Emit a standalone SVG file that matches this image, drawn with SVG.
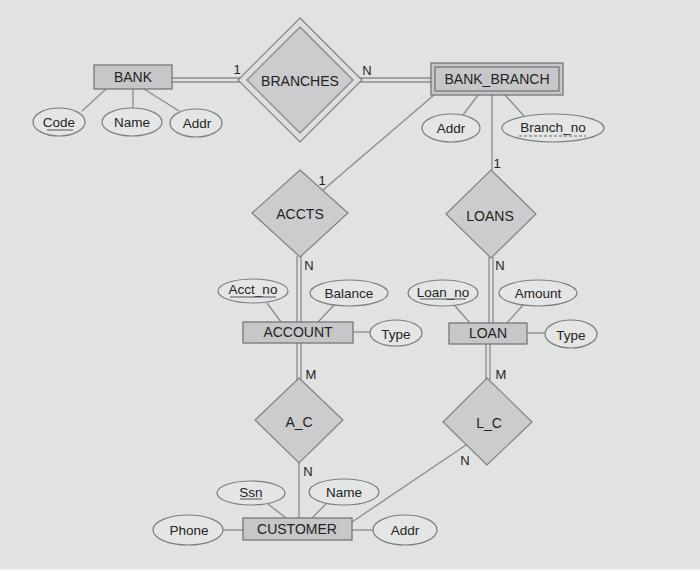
<svg xmlns="http://www.w3.org/2000/svg" width="700" height="571" viewBox="0 0 700 571">
<style>
.bg{fill:#e0e3e2}
.ent{fill:#c6c7c8;stroke:#6e6f70;stroke-width:1.2}
.ent2{fill:none;stroke:#6e6f70;stroke-width:1.2}
.rel{fill:#cbcccd;stroke:#808182;stroke-width:1.2}
.relo{fill:#dcdfde;stroke:#808182;stroke-width:1.2}
.att{fill:#e4e6e5;stroke:#7c7d7e;stroke-width:1.2}
.ln{stroke:#8a8b8c;stroke-width:1.3;fill:none}
.ul{stroke:#555;stroke-width:1;fill:none}
.dul{stroke:#666;stroke-width:1;fill:none;stroke-dasharray:3 2}
text{font-family:"Liberation Sans",Arial,sans-serif;fill:#232323;text-anchor:middle;dominant-baseline:central}
.t14{font-size:14px}
.t13{font-size:13.5px}
.c{font-size:13px}
</style>
<rect class="bg" x="0" y="0" width="700" height="571"/>
<rect x="0" y="569" width="700" height="2" fill="#f3f4f4"/>

<g id="connectors">
  <line class="ln" x1="172" y1="78" x2="242" y2="78"/>
  <line class="ln" x1="172" y1="82" x2="242" y2="82"/>
  <line class="ln" x1="358" y1="78" x2="431" y2="78"/>
  <line class="ln" x1="358" y1="82" x2="431" y2="82"/>
  <line class="ln" x1="106" y1="89" x2="82" y2="111"/>
  <line class="ln" x1="133" y1="89" x2="133" y2="108"/>
  <line class="ln" x1="144" y1="89" x2="179" y2="111"/>
  <line class="ln" x1="478" y1="95" x2="463" y2="115"/>
  <line class="ln" x1="505" y1="95" x2="524" y2="116"/>
  <line class="ln" x1="492" y1="95" x2="492" y2="170"/>
  <line class="ln" x1="434" y1="95" x2="323" y2="190"/>
  <line class="ln" x1="297" y1="256" x2="297" y2="322"/>
  <line class="ln" x1="301" y1="256" x2="301" y2="322"/>
  <line class="ln" x1="267" y1="303" x2="281" y2="322"/>
  <line class="ln" x1="334" y1="305" x2="318" y2="322"/>
  <line class="ln" x1="353" y1="332" x2="370" y2="332"/>
  <line class="ln" x1="297" y1="343" x2="297" y2="380"/>
  <line class="ln" x1="301" y1="343" x2="301" y2="380"/>
  <line class="ln" x1="299" y1="463" x2="299" y2="518"/>
  <line class="ln" x1="489" y1="257" x2="489" y2="323"/>
  <line class="ln" x1="493" y1="257" x2="493" y2="323"/>
  <line class="ln" x1="455" y1="306" x2="470" y2="323"/>
  <line class="ln" x1="523" y1="305" x2="507" y2="323"/>
  <line class="ln" x1="527" y1="333" x2="545" y2="333"/>
  <line class="ln" x1="486" y1="344" x2="486" y2="380"/>
  <line class="ln" x1="490" y1="344" x2="490" y2="380"/>
  <line class="ln" x1="466" y1="445" x2="352" y2="522"/>
  <line class="ln" x1="268" y1="504" x2="286" y2="518"/>
  <line class="ln" x1="326" y1="504" x2="312" y2="518"/>
  <line class="ln" x1="223" y1="530" x2="243" y2="530"/>
  <line class="ln" x1="352" y1="530" x2="373" y2="530"/>
  <text class="c" x="237" y="69">1</text>
  <text class="c" x="367" y="70">N</text>
  <text class="c" x="497" y="163">1</text>
  <text class="c" x="322" y="180">1</text>
  <text class="c" x="309" y="265">N</text>
  <text class="c" x="500" y="265">N</text>
  <text class="c" x="311" y="374">M</text>
  <text class="c" x="501" y="374">M</text>
  <text class="c" x="308" y="471">N</text>
  <text class="c" x="465" y="460">N</text>
</g>

<g id="BANK">
  <rect class="ent" x="94" y="65" width="78" height="24"/>
  <text class="t14" x="133" y="77">BANK</text>
</g>
<g id="BANK_Code">
  <ellipse class="att" cx="59" cy="122" rx="26" ry="14"/>
  <text class="t13" x="59" y="122">Code</text>
  <line class="ul" x1="47" y1="130" x2="73" y2="130"/>
</g>
<g id="BANK_Name">
  <ellipse class="att" cx="132" cy="122" rx="30" ry="14"/>
  <text class="t13" x="132" y="122">Name</text>
</g>
<g id="BANK_Addr">
  <ellipse class="att" cx="196" cy="123" rx="26" ry="14"/>
  <text class="t13" x="197" y="123">Addr</text>
</g>

<g id="BRANCHES">
  <polygon class="relo" points="300,18 362,80 300,142 238,80"/>
  <polygon class="rel" points="300,27 353,80 300,133 247,80"/>
  <text class="t14" x="300" y="81">BRANCHES</text>
</g>

<g id="BANK_BRANCH">
  <rect class="ent" x="431" y="63" width="132" height="32"/>
  <rect class="ent2" x="435" y="67" width="124" height="24"/>
  <text class="t14" x="497" y="79">BANK_BRANCH</text>
</g>
<g id="BB_Addr">
  <ellipse class="att" cx="451" cy="128" rx="29" ry="14"/>
  <text class="t13" x="451" y="128">Addr</text>
</g>
<g id="BB_Branch_no">
  <ellipse class="att" cx="553" cy="128" rx="51" ry="14"/>
  <text class="t13" x="553" y="127">Branch_no</text>
  <line class="dul" x1="519" y1="136" x2="586" y2="136"/>
</g>

<g id="ACCTS">
  <polygon class="rel" points="300,170 348,213 300,257 252,213"/>
  <text class="t14" x="300" y="214">ACCTS</text>
</g>
<g id="LOANS">
  <polygon class="rel" points="491,170 536,214 491,258 446,214"/>
  <text class="t14" x="490" y="216">LOANS</text>
</g>

<g id="ACCOUNT">
  <rect class="ent" x="243" y="322" width="110" height="21"/>
  <text class="t14" x="298" y="332">ACCOUNT</text>
</g>
<g id="ACC_Acct_no">
  <ellipse class="att" cx="253" cy="291" rx="35" ry="12"/>
  <text class="t13" x="253" y="289">Acct_no</text>
  <line class="ul" x1="230" y1="297" x2="276" y2="297"/>
</g>
<g id="ACC_Balance">
  <ellipse class="att" cx="349" cy="293" rx="39" ry="13"/>
  <text class="t13" x="349" y="293">Balance</text>
</g>
<g id="ACC_Type">
  <ellipse class="att" cx="396" cy="333" rx="26" ry="13"/>
  <text class="t13" x="396" y="334">Type</text>
</g>

<g id="LOAN">
  <rect class="ent" x="449" y="323" width="78" height="21"/>
  <text class="t14" x="488" y="333">LOAN</text>
</g>
<g id="LOAN_Loan_no">
  <ellipse class="att" cx="443" cy="293" rx="35" ry="13"/>
  <text class="t13" x="443" y="292">Loan_no</text>
  <line class="ul" x1="420" y1="299" x2="466" y2="299"/>
</g>
<g id="LOAN_Amount">
  <ellipse class="att" cx="538" cy="293" rx="39" ry="13"/>
  <text class="t13" x="538" y="293">Amount</text>
</g>
<g id="LOAN_Type">
  <ellipse class="att" cx="571" cy="334" rx="26" ry="14"/>
  <text class="t13" x="571" y="335">Type</text>
</g>

<g id="A_C">
  <polygon class="rel" points="299,378 343,420 299,463 255,420"/>
  <text class="t14" x="299" y="422">A_C</text>
</g>
<g id="L_C">
  <polygon class="rel" points="487,378 532,422 487,465 443,422"/>
  <text class="t14" x="489" y="423">L_C</text>
</g>

<g id="CUSTOMER">
  <rect class="ent" x="243" y="518" width="109" height="22"/>
  <text class="t14" x="297" y="529">CUSTOMER</text>
</g>
<g id="CUST_Ssn">
  <ellipse class="att" cx="251" cy="493" rx="34" ry="12"/>
  <text class="t13" x="251" y="492">Ssn</text>
  <line class="ul" x1="240" y1="499" x2="262" y2="499"/>
</g>
<g id="CUST_Name">
  <ellipse class="att" cx="344" cy="492" rx="35" ry="13"/>
  <text class="t13" x="344" y="492">Name</text>
</g>
<g id="CUST_Phone">
  <ellipse class="att" cx="188" cy="530" rx="35" ry="15"/>
  <text class="t13" x="189" y="530">Phone</text>
</g>
<g id="CUST_Addr">
  <ellipse class="att" cx="405" cy="530" rx="32" ry="15"/>
  <text class="t13" x="405" y="530">Addr</text>
</g>
</svg>
